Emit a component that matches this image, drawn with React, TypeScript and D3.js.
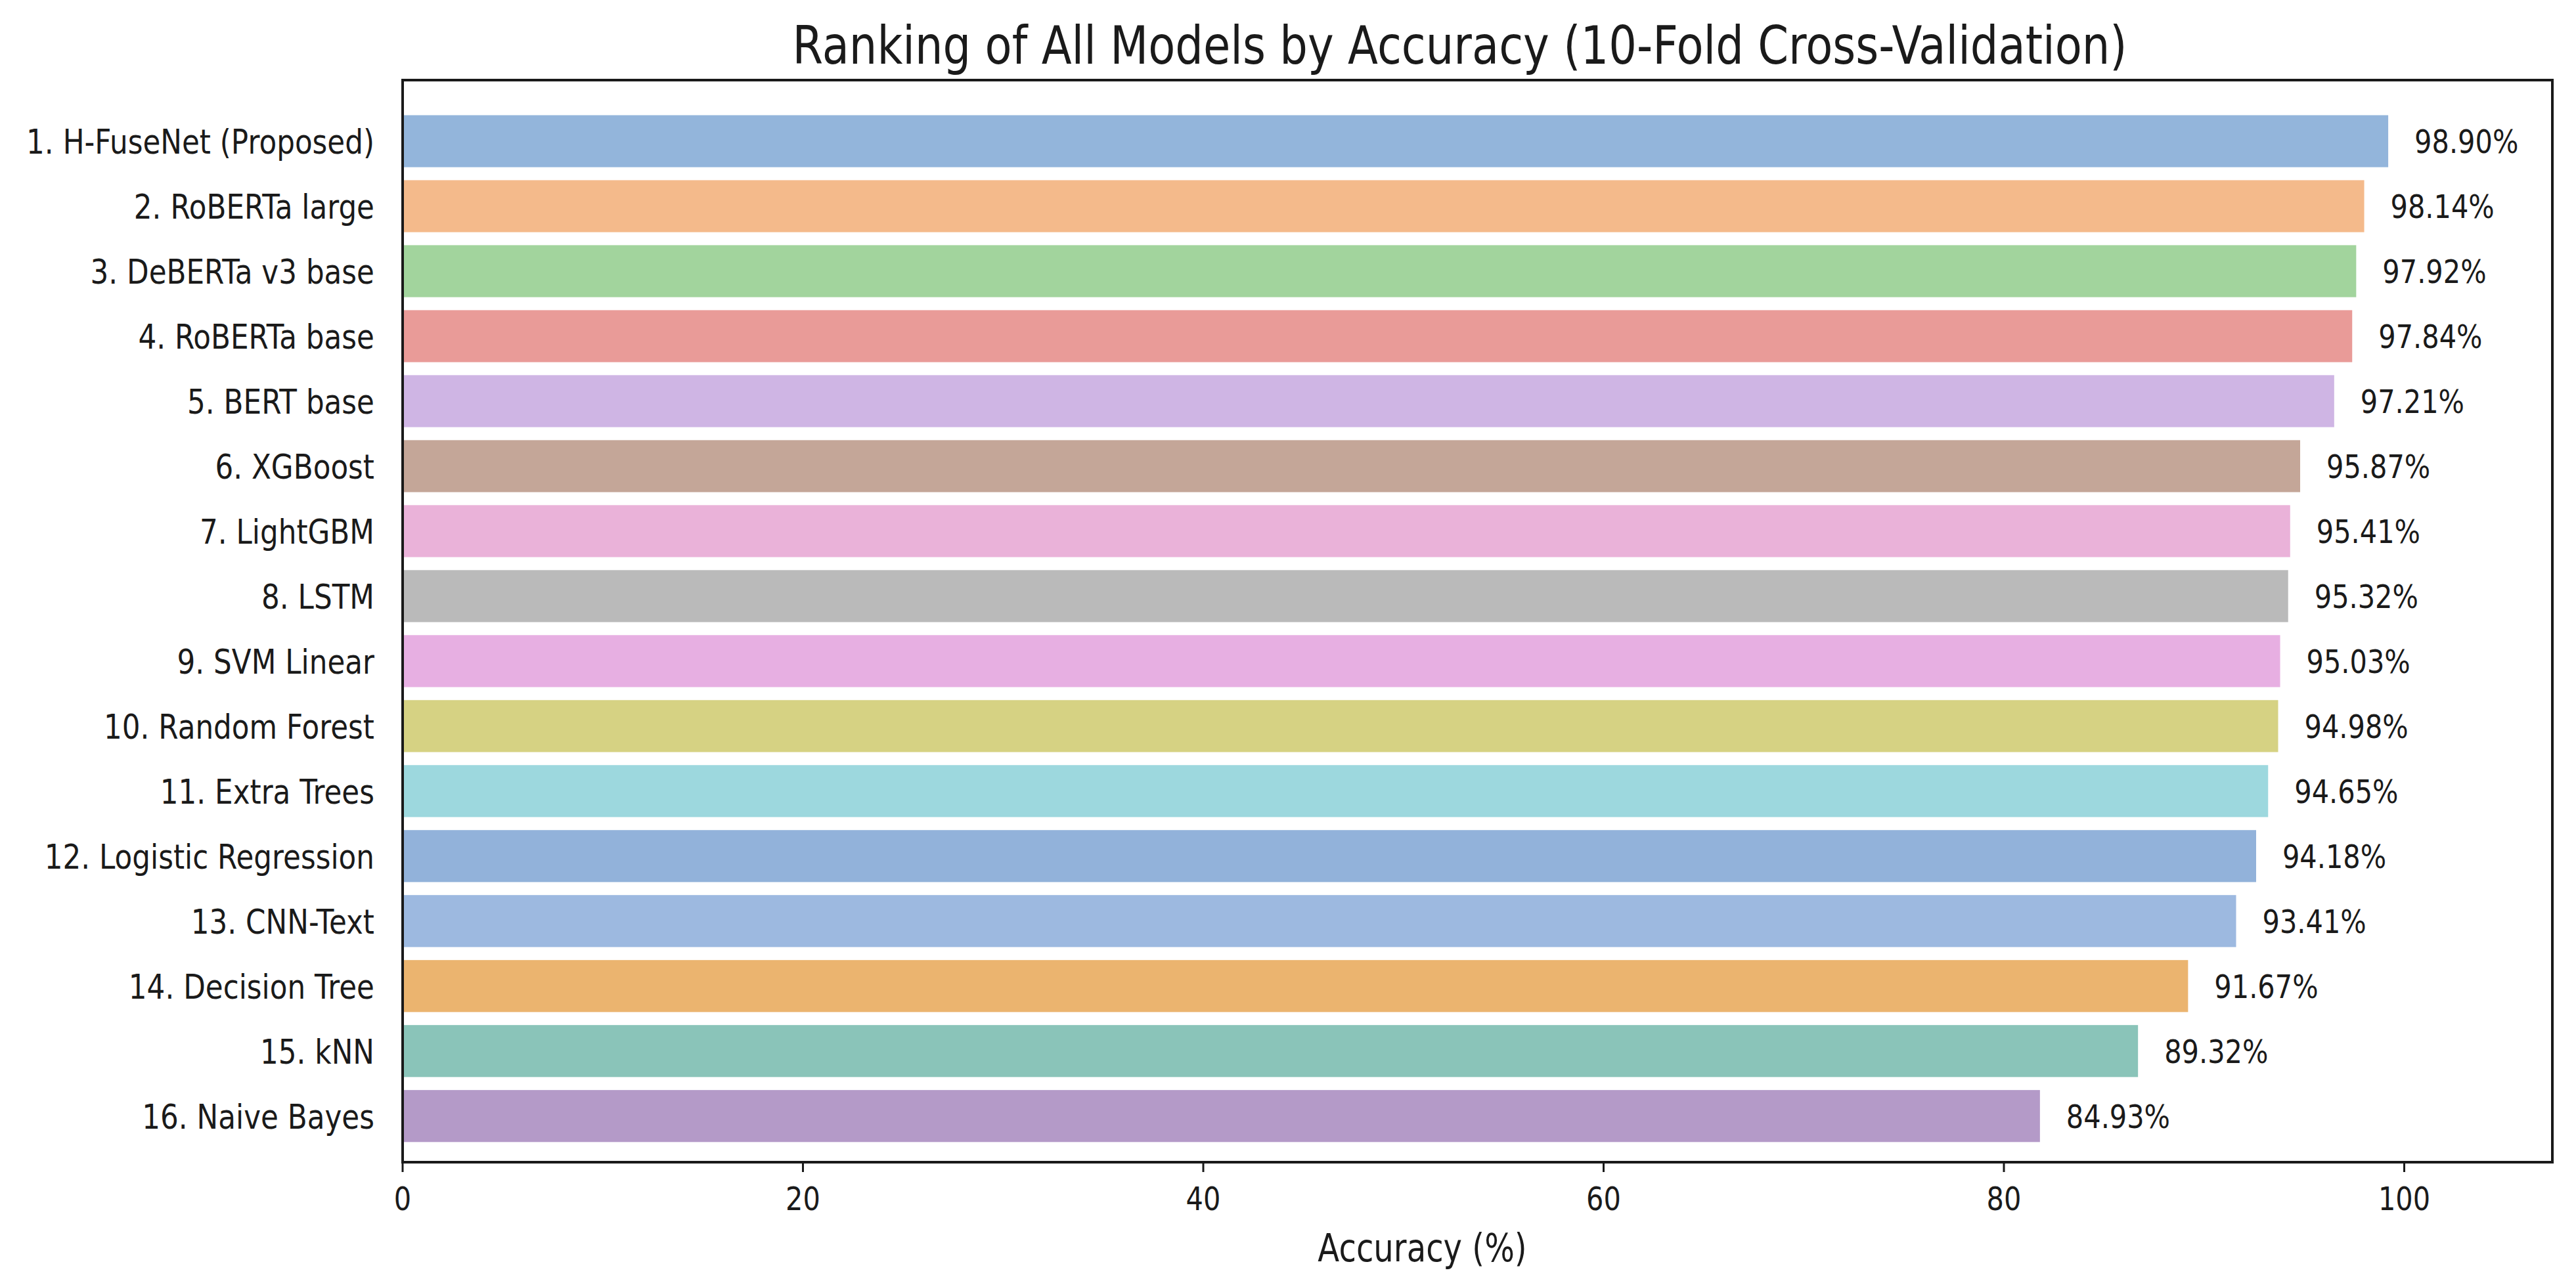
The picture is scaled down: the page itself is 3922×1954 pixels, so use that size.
import { useEffect, useRef } from "react"
import * as d3 from "d3"

const models = [
  "1. H-FuseNet (Proposed)",
  "2. RoBERTa large",
  "3. DeBERTa v3 base",
  "4. RoBERTa base",
  "5. BERT base",
  "6. XGBoost",
  "7. LightGBM",
  "8. LSTM",
  "9. SVM Linear",
  "10. Random Forest",
  "11. Extra Trees",
  "12. Logistic Regression",
  "13. CNN-Text",
  "14. Decision Tree",
  "15. kNN",
  "16. Naive Bayes",
]

// printed accuracy next to each bar
const accuracy = [98.9, 98.14, 97.92, 97.84, 97.21, 95.87, 95.41, 95.32, 95.03, 94.98, 94.65, 94.18, 93.41, 91.67, 89.32, 84.93]

// bar lengths as drawn in the picture (they end a bit short of the printed value)
const barLength = [99.2, 98.0, 97.6, 97.4, 96.5, 94.8, 94.3, 94.2, 93.8, 93.7, 93.2, 92.6, 91.6, 89.2, 86.7, 81.8]

const barColors = [
  "#93b5db", "#f4ba8b", "#a2d49d", "#e99b98", "#cfb5e4", "#c4a698", "#eab2d9", "#bababa",
  "#e7afe2", "#d6d283", "#9dd8de", "#92b2da", "#9db9e0", "#ebb46f", "#8ac4b9", "#b49ac8",
]

const xTicks = [0, 20, 40, 60, 80, 100]

const title = "Ranking of All Models by Accuracy (10-Fold Cross-Validation)"
const xLabel = "Accuracy (%)"

export default function App() {
  const svgRef = useRef<SVGSVGElement>(null)

  useEffect(() => {
    if (!svgRef.current) return
    document.body.style.margin = "0"

    const width = 3922
    const height = 1954
    const plot = { left: 613, right: 3886, top: 122, bottom: 1770 }
    const font = "DejaVu Sans"
    const ink = "#1a1a1a"

    const svg = d3.select(svgRef.current).attr("width", width).attr("height", height)
    svg.selectAll("*").remove()
    svg.append("rect").attr("width", width).attr("height", height).attr("fill", "#fff")

    const xScale = d3.scaleLinear().domain([0, 107.4]).range([plot.left, plot.right])
    const yScale = d3.scaleLinear().domain([-0.94, 15.71]).range([plot.top, plot.bottom])
    const barH = yScale(0.4) - yScale(-0.4)

    // the reference text is narrower than plain DejaVu Sans, so squeeze it sideways
    const label = (x: number, y: number, text: string, size: number, anchor: string, squeeze = 0.83) =>
      svg
        .append("g")
        .attr("transform", `translate(${x},${y}) scale(${squeeze},1)`)
        .append("text")
        .attr("font-family", font)
        .attr("font-size", size)
        .attr("fill", ink)
        .attr("text-anchor", anchor)
        .text(text)

    svg
      .append("g")
      .selectAll("rect")
      .data(models)
      .enter()
      .append("rect")
      .attr("x", xScale(0))
      .attr("y", (_, i) => yScale(i) - barH / 2)
      .attr("width", (_, i) => xScale(barLength[i]) - xScale(0))
      .attr("height", barH)
      .attr("fill", (_, i) => barColors[i])

    models.forEach((m, i) => {
      label(570, yScale(i) + 19, m, 52, "end", 0.84)
      label(xScale(barLength[i]) + 40, yScale(i) + 18, `${accuracy[i].toFixed(2)}%`, 50, "start")
    })

    // frame
    svg
      .append("rect")
      .attr("x", plot.left)
      .attr("y", plot.top)
      .attr("width", plot.right - plot.left)
      .attr("height", plot.bottom - plot.top)
      .attr("fill", "none")
      .attr("stroke", ink)
      .attr("stroke-width", 4)

    xTicks.forEach((t) => {
      svg
        .append("line")
        .attr("x1", xScale(t))
        .attr("x2", xScale(t))
        .attr("y1", plot.bottom)
        .attr("y2", plot.bottom + 15)
        .attr("stroke", ink)
        .attr("stroke-width", 3)
      label(xScale(t), 1843, String(t), 50, "middle")
    })

    const mid = (plot.left + plot.right) / 2
    label(mid - 84, 1921, xLabel, 58, "middle")
    label(mid - 27, 97, title, 80, "middle", 0.84)
  }, [])

  return <svg ref={svgRef} style={{ display: "block" }} />
}
